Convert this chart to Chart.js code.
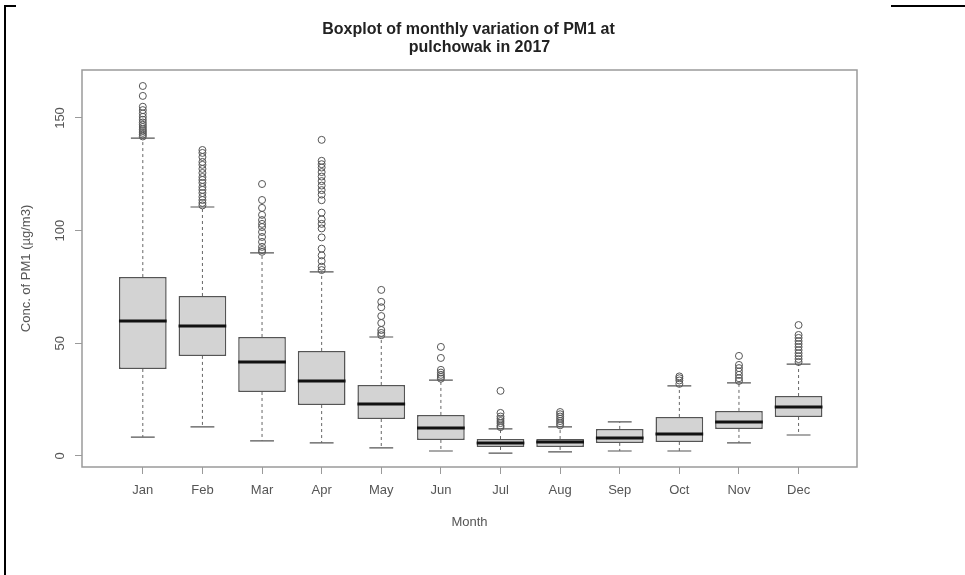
<!DOCTYPE html>
<html>
<head>
<meta charset="utf-8">
<title>Boxplot of monthly variation of PM1</title>
<script src="https://cdn.jsdelivr.net/npm/chart.js@4.4.1/dist/chart.umd.min.js"></script>
<style>
  html, body { margin: 0; padding: 0; background: #fff; }
  #wrap { position: relative; width: 965px; height: 575px; overflow: hidden; }
  #chart { position: absolute; left: 0; top: 0; }
  .edge { position: absolute; background: #000; }
</style>
</head>
<body>
<div id="wrap">
  <canvas id="chart" width="965" height="575"></canvas>
  <div class="edge" style="left:4px;top:5px;width:2px;height:570px"></div>
  <div class="edge" style="left:4px;top:5px;width:12px;height:2px"></div>
  <div class="edge" style="left:891px;top:5px;width:74px;height:2px"></div>
</div>
<script>
const months = ['Jan', 'Feb', 'Mar', 'Apr', 'May', 'Jun', 'Jul', 'Aug', 'Sep', 'Oct', 'Nov', 'Dec'];
const lowerWhisker = [8.4, 12.9, 6.7, 5.8, 3.6, 2.2, 1.3, 1.8, 2.2, 2.2, 5.8, 9.3];
const q1 = [38.6, 44.4, 28.4, 22.6, 16.4, 7.1, 4.0, 4.0, 5.8, 6.2, 12.0, 17.3];
const median = [59.9, 57.7, 41.7, 33.3, 23.1, 12.4, 5.8, 6.2, 8.0, 9.8, 15.1, 21.7];
const q3 = [79.4, 71.0, 52.8, 46.6, 31.5, 18.2, 7.5, 7.5, 12.0, 17.3, 20.0, 26.6];
const upperWhisker = [141.1, 110.5, 90.1, 81.7, 52.8, 33.7, 12.0, 12.9, 15.1, 31.1, 32.4, 40.8];
// outliers per month, Jan..Dec
const outliers = [
  [164.2, 159.8, 155.0, 153.5, 152.0, 150.5, 149.2, 148.0, 147.0, 146.0, 145.0, 144.2, 143.4, 142.6, 141.8],
  [135.8, 134.5, 132.7, 130.5, 129.2, 127.4, 125.6, 123.8, 122.5, 121.2, 119.4, 118.1, 116.7, 115.0, 113.6, 112.3, 111.2],
  [120.7, 113.6, 110.1, 107.0, 104.7, 103.0, 101.6, 99.4, 97.2, 95.0, 92.8, 91.4, 90.6],
  [140.3, 131.0, 129.5, 128.0, 126.0, 124.0, 122.0, 120.0, 118.0, 116.0, 113.5, 108.0, 105.0, 103.0, 101.0, 97.0, 92.0, 89.0, 86.5, 84.0, 82.5],
  [73.7, 68.4, 66.0, 62.1, 59.0, 55.9, 54.6, 53.6],
  [48.4, 43.5, 38.2, 37.0, 36.0, 35.1, 34.3],
  [28.9, 19.1, 17.5, 16.5, 15.5, 14.6, 13.5, 12.8],
  [19.5, 18.5, 17.5, 16.5, 15.5, 14.5, 13.6],
  [],
  [35.3, 34.5, 33.5, 32.0],
  [44.4, 40.4, 39.0, 37.5, 36.0, 34.5, 33.3],
  [58.1, 53.7, 52.4, 51.0, 49.7, 48.4, 47.0, 45.6, 44.3, 43.0, 41.7]
];
const yTicks = [0, 50, 100, 150];

// line segments separated by null gaps
const whiskerPts = [];
const capPts = [];
const medianPts = [];
const outlierPts = [];
months.forEach((m, i) => {
  const x = i + 1;
  whiskerPts.push({x: x, y: q3[i]}, {x: x, y: upperWhisker[i]}, {x: x, y: null});
  whiskerPts.push({x: x, y: q1[i]}, {x: x, y: lowerWhisker[i]}, {x: x, y: null});
  capPts.push({x: x - 0.2, y: upperWhisker[i]}, {x: x + 0.2, y: upperWhisker[i]}, {x: x, y: null});
  capPts.push({x: x - 0.2, y: lowerWhisker[i]}, {x: x + 0.2, y: lowerWhisker[i]}, {x: x, y: null});
  medianPts.push({x: x - 0.4, y: median[i]}, {x: x + 0.4, y: median[i]}, {x: x, y: null});
  outliers[i].forEach(v => outlierPts.push({x: x, y: v}));
});

const FONT = "'Liberation Sans', Arial, sans-serif";
const axisGrey = '#9a9a9a';
const textGrey = '#555';

const frameAndTitle = {
  id: 'frameAndTitle',
  afterDraw(chart) {
    const ctx = chart.ctx;
    const a = chart.chartArea;
    ctx.save();
    ctx.strokeStyle = axisGrey;
    ctx.lineWidth = 1.5;
    ctx.strokeRect(a.left, a.top, a.right - a.left, a.bottom - a.top);
    ctx.fillStyle = '#222';
    ctx.font = 'bold 16px ' + FONT;
    ctx.textAlign = 'center';
    ctx.textBaseline = 'middle';
    const cx = (a.left + a.right) / 2;
    ctx.fillText('Boxplot of monthly variation of PM1 at', cx - 1, 30);
    ctx.fillText('pulchowak in 2017', cx + 10, 48);
    ctx.restore();
  }
};

const ctx = document.getElementById('chart').getContext('2d');
const chart = new Chart(ctx, {
  type: 'bar',
  data: {
    datasets: [
      {
        type: 'line',
        data: outlierPts,
        showLine: false,
        pointStyle: 'circle',
        pointRadius: 3.5,
        pointBorderWidth: 1,
        pointBackgroundColor: 'rgba(0,0,0,0)',
        pointBorderColor: '#555',
        order: 0
      },
      {
        type: 'line',
        data: medianPts,
        borderColor: '#111',
        borderWidth: 3,
        pointRadius: 0,
        spanGaps: false,
        order: 1
      },
      {
        type: 'bar',
        data: months.map((m, i) => ({x: i + 1, y: [q1[i], q3[i]]})),
        backgroundColor: '#d3d3d3',
        borderColor: '#555',
        borderWidth: 1.5,
        borderSkipped: false,
        categoryPercentage: 1,
        barPercentage: 0.8,
        order: 2
      },
      {
        type: 'line',
        data: whiskerPts,
        borderColor: '#666',
        borderWidth: 1,
        borderDash: [3, 3],
        pointRadius: 0,
        spanGaps: false,
        order: 3
      },
      {
        type: 'line',
        data: capPts,
        borderColor: '#555',
        borderWidth: 1.2,
        pointRadius: 0,
        spanGaps: false,
        order: 3
      }
    ]
  },
  options: {
    responsive: false,
    animation: false,
    layout: { padding: { top: 70, right: 108, left: 0, bottom: 0 } },
    plugins: {
      legend: { display: false },
      tooltip: { enabled: false },
      title: { display: false }
    },
    scales: {
      x: {
        type: 'linear',
        offset: false,
        min: -0.02,
        max: 12.98,
        afterBuildTicks: s => { s.ticks = months.map((m, i) => ({value: i + 1})); },
        afterFit: s => { s.height = 108; },
        ticks: {
          callback: v => months[v - 1],
          color: textGrey,
          font: { family: FONT, size: 13 },
          padding: 9,
          maxRotation: 0,
          autoSkip: false
        },
        grid: { offset: false, drawOnChartArea: false, drawTicks: true, tickLength: 7, color: axisGrey, lineWidth: 1 },
        border: { display: false },
        title: { display: true, text: 'Month', color: textGrey, font: { family: FONT, size: 13 }, padding: { top: 0, bottom: 45 } }
      },
      y: {
        min: -4.9,
        max: 171.3,
        afterBuildTicks: s => { s.ticks = yTicks.map(v => ({value: v})); },
        afterFit: s => { s.width = 82; },
        ticks: {
          color: textGrey,
          font: { family: FONT, size: 13 },
          minRotation: 90,
          maxRotation: 90,
          crossAlign: 'center',
          padding: 4
        },
        grid: { drawOnChartArea: false, drawTicks: true, tickLength: 7, color: axisGrey, lineWidth: 1 },
        border: { display: false },
        title: { display: true, text: 'Conc. of PM1 (µg/m3)', color: textGrey, font: { family: FONT, size: 13 }, padding: { top: 19, bottom: 0 } }
      }
    }
  },
  plugins: [frameAndTitle]
});
</script>
</body>
</html>
